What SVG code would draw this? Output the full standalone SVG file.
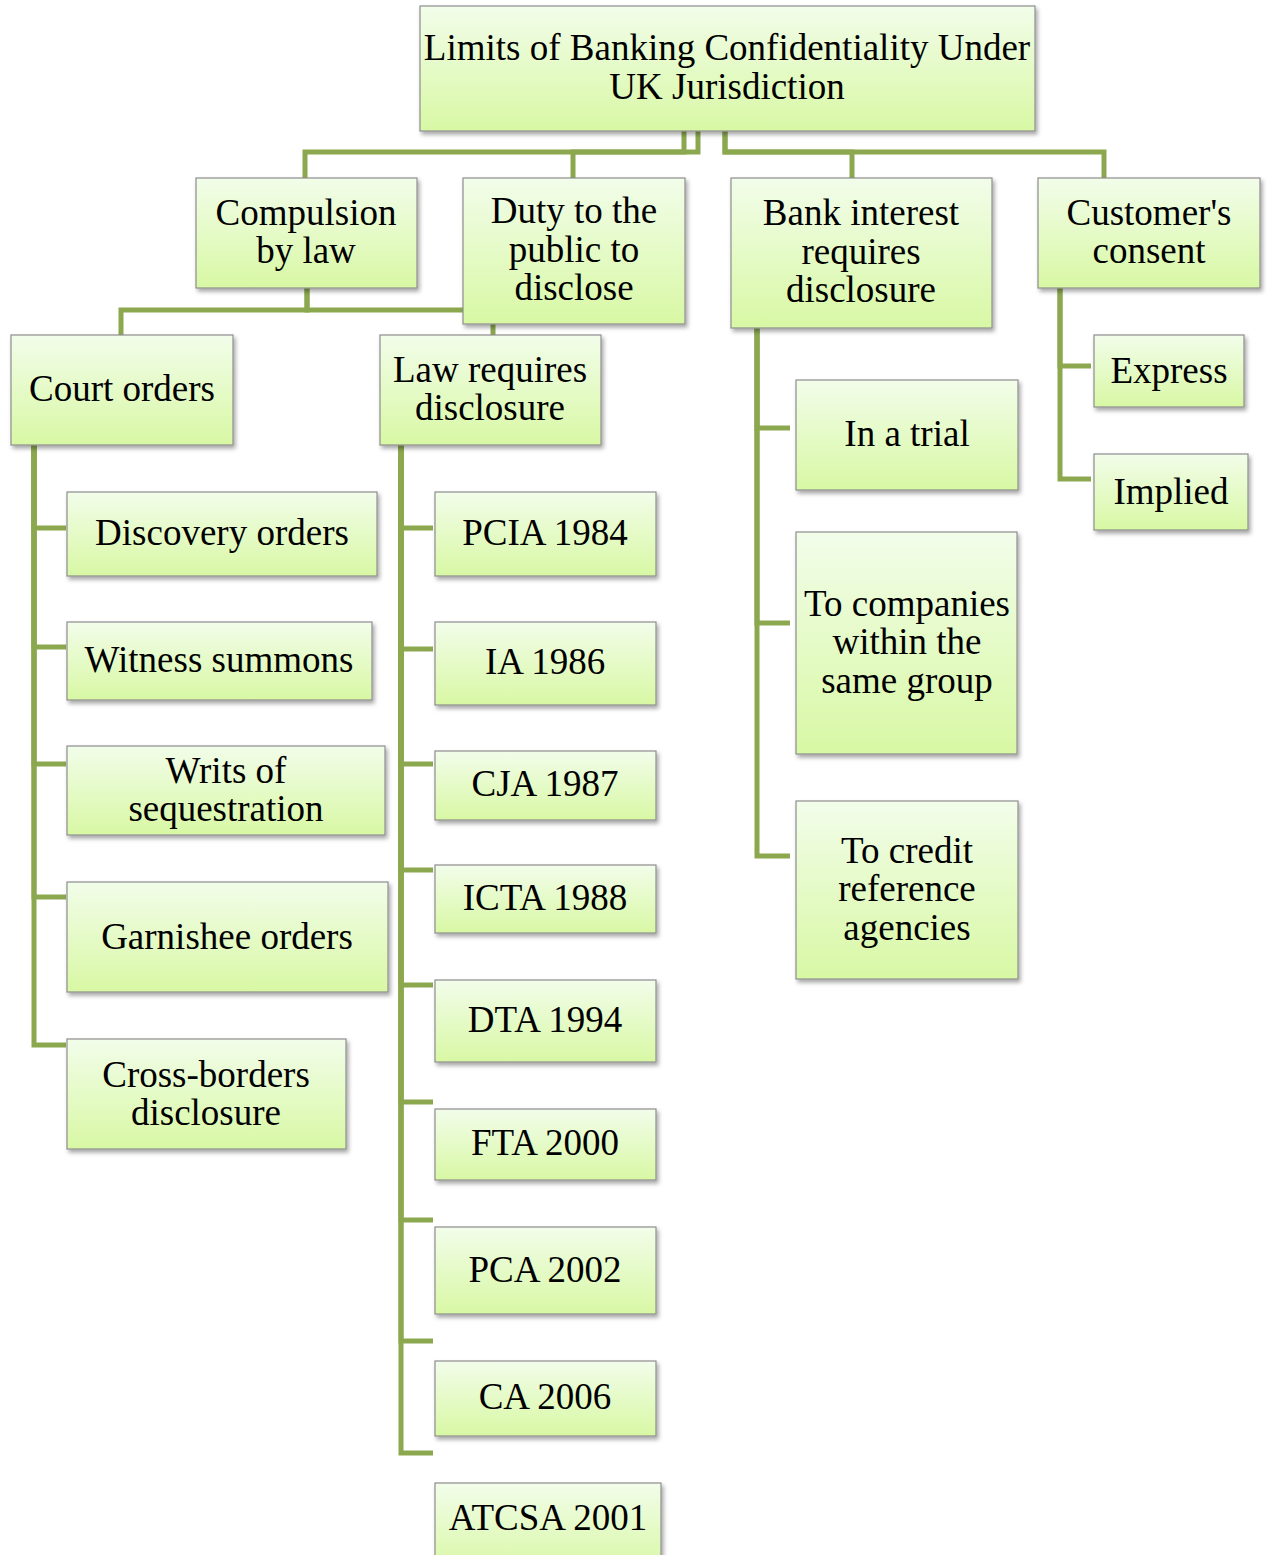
<svg xmlns="http://www.w3.org/2000/svg" width="1267" height="1555" viewBox="0 0 1267 1555">
<defs>
<linearGradient id="g" x1="0" y1="0" x2="0" y2="1">
<stop offset="0" stop-color="#f2fdea"/>
<stop offset="1" stop-color="#d8f8a4"/>
</linearGradient>
<filter id="sh" x="-10%" y="-10%" width="125%" height="130%">
<feDropShadow dx="2" dy="3" stdDeviation="2" flood-color="#000" flood-opacity="0.35"/>
</filter>
</defs>
<style>
.box{fill:url(#g);stroke:#8e8e8e;stroke-width:1.2;filter:url(#sh)}
.t{font-family:"Liberation Serif","Times New Roman",serif;font-size:37px;fill:#000;text-anchor:middle}
.c{fill:none;stroke:#8ba84f;stroke-width:5;stroke-linejoin:miter}
</style>
<g id="connectors">
<path class="c" d="M684,131 V152 H305 V178"/>
<path class="c" d="M698,131 V152 H573 V178"/>
<path class="c" d="M725,131 V152 H852 V178"/>
<path class="c" d="M725,131 V152 H1104 V178"/>
<path class="c" d="M307,288 V310 H121 V335"/>
<path class="c" d="M307,288 V310 H493 V335"/>
<path class="c" d="M34,445 V528 H66"/>
<path class="c" d="M34,445 V647 H66"/>
<path class="c" d="M34,445 V764 H66"/>
<path class="c" d="M34,445 V897 H66"/>
<path class="c" d="M34,445 V1045 H66"/>
<path class="c" d="M401,445 V528 H433"/>
<path class="c" d="M401,445 V649 H433"/>
<path class="c" d="M401,445 V764 H433"/>
<path class="c" d="M401,445 V870 H433"/>
<path class="c" d="M401,445 V985 H433"/>
<path class="c" d="M401,445 V1102 H433"/>
<path class="c" d="M401,445 V1220 H433"/>
<path class="c" d="M401,445 V1341 H433"/>
<path class="c" d="M401,445 V1453 H433"/>
<path class="c" d="M757,328 V428 H790"/>
<path class="c" d="M757,328 V623 H790"/>
<path class="c" d="M757,328 V856 H790"/>
<path class="c" d="M1060,288 V366 H1091"/>
<path class="c" d="M1060,288 V479 H1091"/>
</g>
<g id="root"><rect class="box" x="420" y="6" width="615" height="125"/><text class="t" x="727" y="60">Limits of Banking Confidentiality Under</text><text class="t" x="727" y="99">UK Jurisdiction</text></g>
<g id="compulsion"><rect class="box" x="196" y="178" width="221" height="110"/><text class="t" x="306" y="225">Compulsion</text><text class="t" x="306" y="263">by law</text></g>
<g id="duty"><rect class="box" x="463" y="178" width="222" height="146"/><text class="t" x="574" y="223">Duty to the</text><text class="t" x="574" y="262">public to</text><text class="t" x="574" y="300">disclose</text></g>
<g id="bank"><rect class="box" x="731" y="178" width="261" height="150"/><text class="t" x="861" y="225">Bank interest</text><text class="t" x="861" y="264">requires</text><text class="t" x="861" y="302">disclosure</text></g>
<g id="consent"><rect class="box" x="1038" y="178" width="222" height="110"/><text class="t" x="1149" y="225">Customer's</text><text class="t" x="1149" y="263">consent</text></g>
<g id="court"><rect class="box" x="11" y="335" width="222" height="110"/><text class="t" x="122" y="401">Court orders</text></g>
<g id="lawreq"><rect class="box" x="380" y="335" width="221" height="110"/><text class="t" x="490" y="382">Law requires</text><text class="t" x="490" y="420">disclosure</text></g>
<g id="discovery"><rect class="box" x="67" y="492" width="310" height="84"/><text class="t" x="222" y="545">Discovery orders</text></g>
<g id="witness"><rect class="box" x="67" y="622" width="305" height="78"/><text class="t" x="219" y="672">Witness summons</text></g>
<g id="writs"><rect class="box" x="67" y="746" width="318" height="89"/><text class="t" x="226" y="783">Writs of</text><text class="t" x="226" y="821">sequestration</text></g>
<g id="garnishee"><rect class="box" x="67" y="882" width="321" height="110"/><text class="t" x="227" y="949">Garnishee orders</text></g>
<g id="crossborders"><rect class="box" x="67" y="1039" width="279" height="110"/><text class="t" x="206" y="1087">Cross-borders</text><text class="t" x="206" y="1125">disclosure</text></g>
<g id="pcia"><rect class="box" x="435" y="492" width="221" height="84"/><text class="t" x="545" y="545">PCIA 1984</text></g>
<g id="ia"><rect class="box" x="435" y="622" width="221" height="83"/><text class="t" x="545" y="674">IA 1986</text></g>
<g id="cja"><rect class="box" x="435" y="751" width="221" height="69"/><text class="t" x="545" y="796">CJA 1987</text></g>
<g id="icta"><rect class="box" x="435" y="865" width="221" height="68"/><text class="t" x="545" y="910">ICTA 1988</text></g>
<g id="dta"><rect class="box" x="435" y="980" width="221" height="82"/><text class="t" x="545" y="1032">DTA 1994</text></g>
<g id="fta"><rect class="box" x="435" y="1109" width="221" height="71"/><text class="t" x="545" y="1155">FTA 2000</text></g>
<g id="pca"><rect class="box" x="435" y="1227" width="221" height="87"/><text class="t" x="545" y="1282">PCA 2002</text></g>
<g id="ca"><rect class="box" x="435" y="1361" width="221" height="75"/><text class="t" x="545" y="1409">CA 2006</text></g>
<g id="atcsa"><rect class="box" x="435" y="1483" width="226" height="90"/><text class="t" x="548" y="1530">ATCSA 2001</text></g>
<g id="trial"><rect class="box" x="796" y="380" width="222" height="110"/><text class="t" x="907" y="446">In a trial</text></g>
<g id="companies"><rect class="box" x="796" y="532" width="221" height="222"/><text class="t" x="907" y="616">To companies</text><text class="t" x="907" y="654">within the</text><text class="t" x="907" y="693">same group</text></g>
<g id="credit"><rect class="box" x="796" y="801" width="222" height="178"/><text class="t" x="907" y="863">To credit</text><text class="t" x="907" y="901">reference</text><text class="t" x="907" y="940">agencies</text></g>
<g id="express"><rect class="box" x="1094" y="335" width="150" height="72"/><text class="t" x="1169" y="383">Express</text></g>
<g id="implied"><rect class="box" x="1094" y="454" width="154" height="76"/><text class="t" x="1171" y="504">Implied</text></g>
</svg>
